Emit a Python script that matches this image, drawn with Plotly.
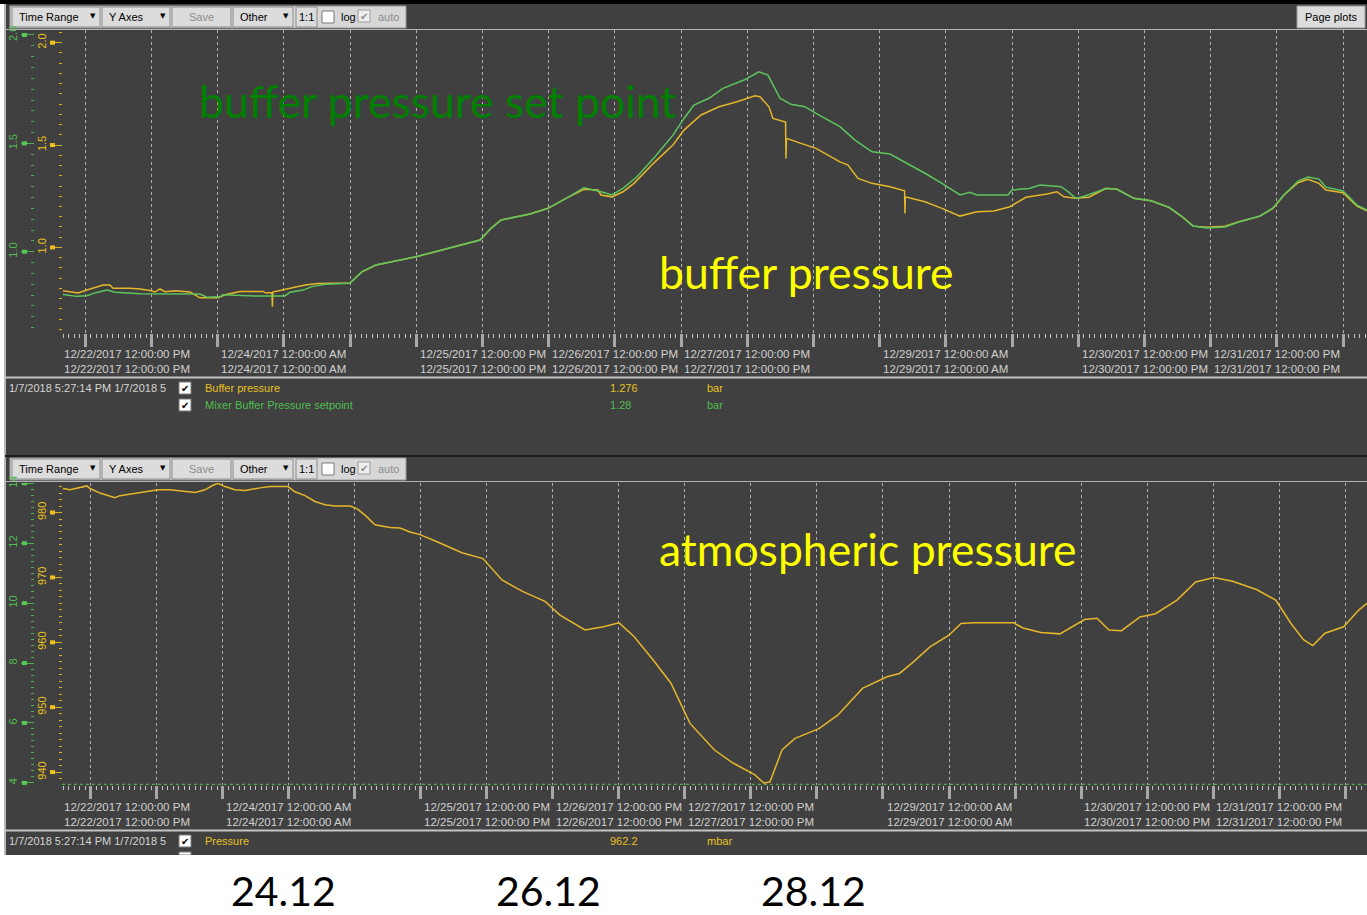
import plotly.graph_objects as go
import pandas as pd

W, H = 1367, 915
BASE = pd.Timestamp("2017-12-24 00:00")

# ---------------- data (hours relative to 2017-12-24 00:00) ----------------
buffer_hours = [-40.06, -37.34, -35.71, -33.90, -32.81, -31.54, -31.00, -27.92, -26.10, -24.29,
                -23.38, -22.48, -21.57, -19.76, -17.04, -15.23, -11.96, -10.69, -7.98, -3.81,
                -3.26, -2.18, -2.10, -2.02, -1.45, 1.09, 3.81, 6.16, 11.96, 14.14,
                16.68, 23.93, 26.47, 29.73, 33.54, 35.53, 37.52, 39.34, 44.59, 47.86,
                51.12, 54.38, 56.92, 57.46, 59.46, 61.45, 63.44, 67.25, 70.51, 72.51,
                75.59, 78.85, 82.12, 85.38, 86.28, 87.92, 88.64, 90.64, 90.92, 91.00,
                91.08, 93.17, 96.44, 100.79, 102.24, 104.05, 106.59, 109.85, 112.50, 112.57,
                112.64, 112.93, 116.19, 119.28, 122.54, 125.62, 128.70, 131.60, 134.50, 138.31,
                140.12, 141.39, 143.39, 145.92, 149.00, 151.00, 154.08, 157.16, 160.42, 162.96,
                164.77, 167.31, 170.58, 173.11, 176.92, 179.28, 181.27, 183.81, 185.62, 187.61,
                188.88, 191.97, 194.50, 196.32]
buffer_bar = [0.788, 0.778, 0.792, 0.806, 0.816, 0.816, 0.801, 0.800, 0.797, 0.790,
              0.782, 0.797, 0.784, 0.788, 0.782, 0.754, 0.754, 0.769, 0.785, 0.785,
              0.777, 0.780, 0.710, 0.782, 0.785, 0.800, 0.816, 0.824, 0.826, 0.881,
              0.914, 0.954, 0.972, 0.995, 1.020, 1.036, 1.093, 1.134, 1.163, 1.191,
              1.240, 1.284, 1.280, 1.256, 1.247, 1.272, 1.313, 1.418, 1.500, 1.573,
              1.647, 1.687, 1.712, 1.741, 1.736, 1.687, 1.630, 1.614, 1.612, 1.435,
              1.533, 1.513, 1.484, 1.418, 1.402, 1.337, 1.313, 1.296, 1.277, 1.166,
              1.245, 1.245, 1.223, 1.191, 1.153, 1.174, 1.178, 1.199, 1.245, 1.261,
              1.272, 1.247, 1.240, 1.245, 1.289, 1.284, 1.240, 1.228, 1.196, 1.147,
              1.104, 1.098, 1.104, 1.125, 1.153, 1.191, 1.256, 1.316, 1.333, 1.313,
              1.280, 1.267, 1.202, 1.179]

setpoint_hours = [-40.06, -37.52, -35.71, -34.26, -32.08, -30.63, -26.10, -15.23, -13.96, -11.60,
                  -11.06, -5.26, 0.18, 1.09, 3.44, 5.08, 7.43, 11.96, 14.14, 16.68,
                  23.93, 26.47, 29.73, 33.54, 35.53, 37.52, 39.34, 44.59, 47.86, 51.12,
                  54.38, 57.46, 59.46, 61.45, 63.99, 67.25, 70.51, 72.51, 74.32, 77.04,
                  79.58, 83.38, 86.10, 87.73, 89.91, 91.90, 94.44, 96.44, 100.79, 103.51,
                  106.59, 109.85, 112.93, 116.19, 119.28, 122.54, 124.35, 125.62, 131.24, 131.96,
                  135.05, 137.04, 140.85, 142.12, 143.57, 145.20, 149.00, 151.00, 154.08, 157.16,
                  160.42, 162.96, 164.77, 167.31, 170.58, 173.11, 176.92, 179.28, 181.27, 183.81,
                  185.62, 187.61, 188.88, 191.97, 194.50, 196.32]
setpoint_bar = [0.803, 0.794, 0.797, 0.810, 0.823, 0.813, 0.806, 0.805, 0.790, 0.792,
                0.802, 0.796, 0.796, 0.813, 0.823, 0.839, 0.850, 0.854, 0.908, 0.939,
                0.977, 0.994, 1.016, 1.039, 1.054, 1.108, 1.146, 1.174, 1.200, 1.246,
                1.295, 1.277, 1.262, 1.292, 1.346, 1.438, 1.538, 1.615, 1.677, 1.708,
                1.754, 1.792, 1.830, 1.815, 1.708, 1.680, 1.669, 1.638, 1.577, 1.515,
                1.461, 1.451, 1.408, 1.362, 1.315, 1.262, 1.274, 1.262, 1.262, 1.285,
                1.292, 1.308, 1.300, 1.277, 1.246, 1.257, 1.292, 1.288, 1.246, 1.235,
                1.205, 1.159, 1.119, 1.109, 1.114, 1.137, 1.165, 1.202, 1.262, 1.326,
                1.345, 1.335, 1.298, 1.280, 1.215, 1.192]

atm_hours = [-41.09, -39.82, -36.73, -36.18, -34.36, -32.55, -31.64, -30.73, -28.00, -25.27,
             -23.82, -21.64, -18.91, -17.09, -15.27, -13.82, -12.91, -11.64, -9.82, -8.00,
             -5.27, -3.45, -0.18, 1.09, 2.91, 4.73, 6.55, 8.36, 11.09, 12.36,
             13.82, 15.64, 18.36, 20.18, 22.00, 23.82, 26.91, 31.45, 35.27, 38.73,
             42.55, 46.55, 49.27, 53.82, 57.18, 60.00, 62.73, 66.18, 69.45, 72.91,
             77.36, 80.73, 84.66, 86.36, 87.45, 89.64, 92.00, 96.36, 99.82, 104.27,
             108.73, 111.00, 113.27, 116.55, 120.00, 122.18, 124.45, 131.75, 133.45, 136.73,
             140.18, 142.36, 144.64, 146.91, 149.09, 151.36, 154.73, 157.55, 161.45, 164.84,
             168.18, 171.56, 176.00, 179.40, 182.18, 184.45, 186.13, 188.36, 191.75, 194.55,
             196.00]
atm_mbar = [983.7, 983.5, 984.1, 983.7, 983.0, 982.6, 982.3, 982.6, 983.0, 983.4,
            983.5, 983.5, 983.3, 983.1, 983.5, 984.2, 984.5, 984.0, 983.5, 983.4,
            983.8, 984.0, 984.0, 983.2, 982.6, 981.7, 981.2, 981.0, 981.0, 980.6,
            979.6, 978.1, 977.7, 977.6, 977.0, 976.6, 975.5, 973.8, 972.9, 969.6,
            967.8, 966.3, 964.2, 961.9, 962.4, 963.0, 960.9, 957.3, 953.7, 947.5,
            943.4, 941.4, 939.6, 938.3, 938.5, 943.4, 945.2, 946.7, 948.8, 952.9,
            954.7, 955.2, 956.8, 959.3, 961.1, 962.9, 963.0, 963.0, 962.2, 961.5,
            961.3, 962.4, 963.5, 963.7, 961.9, 961.8, 963.9, 964.4, 966.5, 969.3,
            970.0, 969.4, 968.1, 966.5, 962.9, 960.4, 959.5, 961.4, 962.4, 965.0,
            966.0]

atm_setpoint_hours = [-41.3, 196.0]
atm_setpoint = [3.95, 3.95]

top_range_hours = [-40.24, 196.32]
bottom_range_hours = [-41.27, 196.0]

time_label_times = ["2017-12-22 12:00", "2017-12-24 00:00", "2017-12-25 12:00", "2017-12-26 12:00",
                    "2017-12-27 12:00", "2017-12-29 00:00", "2017-12-30 12:00", "2017-12-31 12:00"]
date_mark_times = ["2017-12-24", "2017-12-26", "2017-12-28"]
date_mark_texts = ["24.12", "26.12", "28.12"]

legend_top = [("Buffer pressure", "1.276", "bar"), ("Mixer Buffer Pressure setpoint", "1.28", "bar")]
legend_bottom = [("Pressure", "962.2", "mbar")]
cursor_text = "1/7/2018 5:27:14 PM 1/7/2018 5"

top_yellow_major = [1.0, 1.5, 2.0]
top_green_major = [1.0, 1.5, 2.0]
bot_yellow_major = [940, 950, 960, 970, 980]
bot_green_major = [4, 6, 8, 10, 12, 14]

assert len(buffer_hours) == len(buffer_bar)
assert len(setpoint_hours) == len(setpoint_bar)
assert len(atm_hours) == len(atm_mbar)


def to_time(hours):
    return [BASE + pd.Timedelta(hours=h) for h in hours]


def PX(p):
    return p / W


def PY(p):
    return 1 - p / H


BG = "#404040"
YEL = "#e6b62a"
YEL_T = "#e8c020"
GRN = "#5cc65c"
GRN_T = "#4fbf4f"
UIF = "Liberation Sans"

fig = go.Figure()
fig.add_trace(go.Scatter(x=to_time(setpoint_hours), y=setpoint_bar, xaxis="x", yaxis="y2",
                         mode="lines", line=dict(color=GRN, width=1.5), hoverinfo="skip"))
fig.add_trace(go.Scatter(x=to_time(buffer_hours), y=buffer_bar, xaxis="x", yaxis="y",
                         mode="lines", line=dict(color=YEL, width=1.5), hoverinfo="skip"))
fig.add_trace(go.Scatter(x=to_time(atm_setpoint_hours), y=atm_setpoint, xaxis="x2", yaxis="y4",
                         mode="lines", line=dict(color="#4caf4c", width=1.5, dash="dot"), hoverinfo="skip"))
fig.add_trace(go.Scatter(x=to_time(atm_hours), y=atm_mbar, xaxis="x2", yaxis="y3",
                         mode="lines", line=dict(color=YEL, width=1.5), hoverinfo="skip"))

TOP = (30, 333)
BOT = (483, 785)
XL = 62


def xax(rng_h, anchor):
    r = to_time(rng_h)
    return dict(type="date", domain=[PX(XL), 1], range=r, anchor=anchor, automargin=False,
                showgrid=True, gridcolor="#b0b0b0", griddash="dot", gridwidth=1,
                tick0="2017-12-24", dtick=12 * 3600000, ticks="outside", ticklen=13,
                tickwidth=3, tickcolor="#a8a8a8", showticklabels=False,
                minor=dict(ticks="outside", ticklen=4, tickwidth=1, tickcolor="#c4c4c4",
                           dtick=3600000, showgrid=False),
                zeroline=False, showline=False, fixedrange=True)


def xdecor(rng_h, anchor, overlay):
    r = to_time(rng_h)
    return dict(type="date", domain=[PX(XL), 1], range=r, anchor=anchor, overlaying=overlay,
                automargin=False, showgrid=False, tick0="2017-12-24", dtick=2 * 3600000,
                ticks="outside", ticklen=8, tickwidth=1, tickcolor="#c4c4c4",
                showticklabels=False, zeroline=False, showline=False, fixedrange=True)


def yax(dom, rng, pos, majors, fmt, color, tcolor, ticklen, minor_dtick, overlay=None):
    d = dict(range=rng, anchor="free", position=PX(pos), side="left", automargin=False,
             tickmode="array", tickvals=majors, ticktext=[fmt.format(v) for v in majors],
             ticks="outside", ticklen=ticklen, tickwidth=1, tickcolor=color,
             tickangle=-90, tickfont=dict(family=UIF, size=11, color=tcolor),
             minor=dict(ticks="outside", ticklen=3, tickwidth=1, tickcolor=color, dtick=minor_dtick, tick0=0),
             showgrid=False, zeroline=False, showline=False, fixedrange=True)
    if overlay:
        d["overlaying"] = overlay
    else:
        d["domain"] = dom
    return d


def decor(rng, pos, vals, color, ticklen, overlay):
    return dict(range=rng, anchor="free", position=PX(pos), side="left", overlaying=overlay,
                automargin=False, tickmode="array", tickvals=vals, ticks="outside",
                ticklen=ticklen, tickwidth=1, tickcolor=color, showticklabels=False,
                showgrid=False, zeroline=False, showline=False, fixedrange=True)


top_dom = [PY(TOP[1]), PY(TOP[0])]
bot_dom = [PY(BOT[1]), PY(BOT[0])]
ry_top = [0.582, 2.062]
rg_top = [0.625, 2.023]
ry_bot = [938.01, 984.55]
rg_bot = [3.93, 14.01]

layout = dict(
    width=W, height=H, autosize=False,
    margin=dict(l=0, r=0, t=0, b=0, pad=0, autoexpand=False),
    paper_bgcolor="white", plot_bgcolor="rgba(0,0,0,0)", showlegend=False,
    xaxis=xax(top_range_hours, "y"),
    xaxis2=xax(bottom_range_hours, "y3"),
    xaxis3=xdecor(top_range_hours, "y", "x"),
    xaxis4=xdecor(bottom_range_hours, "y3", "x2"),
    yaxis=yax(top_dom, ry_top, 62, top_yellow_major, "{:.1f}", "#d8b028", YEL_T, 12, 0.05),
    yaxis2=yax(None, rg_top, 34, top_green_major, "{:.1f}", "#4fb04f", GRN_T, 13, 0.05, overlay="y"),
    yaxis3=yax(bot_dom, ry_bot, 62, bot_yellow_major, "{:.0f}", "#d8b028", YEL_T, 12, 1),
    yaxis4=yax(None, rg_bot, 34, bot_green_major, "{:.0f}", "#4fb04f", GRN_T, 13, 0.2, overlay="y3"),
    yaxis5=decor(ry_top, 62, [round(0.6 + 0.1 * i, 2) for i in range(15)], "#d8b028", 7, "y"),
    yaxis6=decor(rg_top, 34, [round(0.7 + 0.1 * i, 2) for i in range(14)], "#4fb04f", 8, "y"),
    yaxis7=decor(ry_bot, 62, [945, 955, 965, 975], "#d8b028", 6, "y3"),
    yaxis8=decor(rg_bot, 34, [5, 7, 9, 11, 13], "#4fb04f", 7, "y3"),
)

shapes = []
ann = []


def rect(x0, y0, x1, y1, fill, line=None, lw=1, layer="below"):
    shapes.append(dict(type="rect", xref="paper", yref="paper", x0=PX(x0), x1=PX(x1),
                       y0=PY(y1), y1=PY(y0), fillcolor=fill, layer=layer,
                       line=dict(color=line or fill, width=lw if line else 0)))


def hline(x0, x1, y, color, w=1, layer="below"):
    shapes.append(dict(type="line", xref="paper", yref="paper", x0=PX(x0), x1=PX(x1),
                       y0=PY(y), y1=PY(y), line=dict(color=color, width=w), layer=layer))


def text(s, x, y, size=11, color="#000", xanchor="left", family=UIF, xref="paper"):
    ann.append(dict(text=s, x=PX(x) if xref == "paper" else x, y=PY(y), xref=xref, yref="paper",
                    xanchor=xanchor, yanchor="middle", showarrow=False,
                    font=dict(family=family, size=size, color=color)))


# panel background
rect(5, 0, W, 855, BG)
rect(0, 0, W, 4, "#000000")
shapes.append(dict(type="line", xref="paper", yref="paper", x0=PX(5), x1=PX(5), y0=PY(855), y1=PY(4),
                   line=dict(color="#b8b8b8", width=2), layer="below"))
hline(5, W, 29.5, "#b4b4b4", 1)
hline(5, W, 481.5, "#b4b4b4", 1)
hline(5, W, 377.5, "#c4c4c4", 2)
hline(5, W, 830.5, "#c4c4c4", 2)
hline(5, W, 456, "#1e1e1e", 2)

# major thick tick bars
for v in top_yellow_major:
    shapes.append(dict(type="line", xref="paper", yref="y", x0=PX(50), x1=PX(55), y0=v, y1=v,
                       line=dict(color="#f0c020", width=4)))
for v in top_green_major:
    shapes.append(dict(type="line", xref="paper", yref="y2", x0=PX(22), x1=PX(27), y0=v, y1=v,
                       line=dict(color="#55c855", width=4)))
for v in bot_yellow_major:
    shapes.append(dict(type="line", xref="paper", yref="y3", x0=PX(50), x1=PX(55), y0=v, y1=v,
                       line=dict(color="#f0c020", width=4)))
for v in bot_green_major:
    shapes.append(dict(type="line", xref="paper", yref="y4", x0=PX(22), x1=PX(27), y0=v, y1=v,
                       line=dict(color="#55c855", width=4)))


# toolbars
def checkbox(x0, y0, checked, col="#000000", fill="white", border="#7a7a7a", size=10):
    rect(x0, y0, x0 + 12, y0 + 12, fill, border, 1, layer="above")
    if checked:
        text("✔", x0 + 6, y0 + 6.5, size=size, color=col, xanchor="center", family="DejaVu Sans")


def toolbar(y0):
    y1 = y0 + 22
    rect(10, y0, 406, y1, "#d7d7d7", "#9a9a9a")
    buttons = [(12, 100, "Time Range", True, "#000000"), (102, 170, "Y Axes", True, "#000000"),
               (172, 231, "Save", False, "#8c8c8c"), (233, 293, "Other", True, "#000000"),
               (296, 317, "1:1", False, "#000000")]
    for a, b, label, arrow, col in buttons:
        rect(a, y0 + 1, b, y1 - 1, "#dcdcdc", "#8c8c8c")
        if arrow:
            text(label, a + 5, (y0 + y1) / 2, 11, col)
            text("▼", b - 7, (y0 + y1) / 2 - 1, 7, "#000000", "center", "DejaVu Sans")
        else:
            text(label, (a + b) / 2, (y0 + y1) / 2, 11, col, "center")
    checkbox(322, y0 + 5, False)
    text("log", 339, (y0 + y1) / 2, 11, "#000000")
    checkbox(358, y0 + 4, True, col="#8c8c8c", fill="#efefef", border="#9a9a9a")
    text("auto", 376, (y0 + y1) / 2, 11, "#8c8c8c")


toolbar(6)
toolbar(458)
rect(1297, 6, 1365, 28, "#dcdcdc", "#9a9a9a")
text("Page plots", 1331, 17, 11, "#000000", "center")


# x tick labels (two identical rows)
def time_label(ts):
    t = pd.Timestamp(ts)
    h12 = t.hour % 12 or 12
    ampm = "AM" if t.hour < 12 else "PM"
    return f"{t.month}/{t.day}/{t.year} {h12}:{t.minute:02d}:00 {ampm}"


for xref, rows in (("x", (354, 369)), ("x2", (807, 822))):
    for i, ts in enumerate(time_label_times):
        for ry in rows:
            if i == 0:
                text(time_label(ts), XL, ry, 11.5, "#d0d0d0", "left")
            else:
                text(time_label(ts), pd.Timestamp(ts), ry, 11.5, "#d0d0d0", "center", xref=xref)

# legend rows
legend_colors = [YEL_T, GRN_T]
for i, (name, val, unit) in enumerate(legend_top):
    yy = 388 + 17 * i
    if i == 0:
        text(cursor_text, 7, yy, 11, "#d4d4d4")
    checkbox(179, yy - 6, True)
    text(name, 203, yy, 11, legend_colors[i])
    text(val, 608, yy, 11, legend_colors[i])
    text(unit, 705, yy, 11, legend_colors[i])
for i, (name, val, unit) in enumerate(legend_bottom):
    yy = 841
    text(cursor_text, 7, yy, 11, "#d4d4d4")
    checkbox(179, yy - 6, True)
    text(name, 203, yy, 11, YEL_T)
    text(val, 608, yy, 11, YEL_T)
    text(unit, 705, yy, 11, YEL_T)
rect(179, 852, 191, 855, "white", "#7a7a7a", 1, layer="above")

# white area below the screenshot
rect(0, 855, W, H, "white", layer="above")

# overlay annotations
text("buffer pressure set point", 197, 100, 44.5, "#008000", "left", "Lato")
text("buffer pressure", 657, 271, 44.5, "#ffff00", "left", "Lato")
text("atmospheric pressure", 657, 548, 44.5, "#ffff00", "left", "Lato")
for ts, s in zip(date_mark_times, date_mark_texts):
    text(s, pd.Timestamp(ts), 890, 41, "#000000", "center", "Lato", xref="x")

layout["shapes"] = shapes
layout["annotations"] = ann
fig.update_layout(**layout)

post = (
    "document.documentElement.style.margin='0';document.documentElement.style.padding='0';"
    "document.documentElement.style.overflow='hidden';"
    "document.body.style.margin='0';document.body.style.padding='0';document.body.style.overflow='hidden';"
    "var d=document.getElementsByClassName('plotly-graph-div')[0];"
    "d.style.position='absolute';d.style.left='0px';d.style.top='0px';"
)
fig.write_html("out.html", config={"displayModeBar": False}, post_script=post)
